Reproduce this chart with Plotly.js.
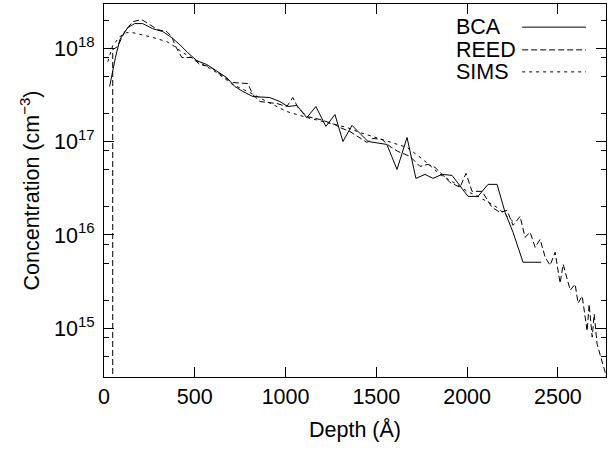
<!DOCTYPE html>
<html>
<head>
<meta charset="utf-8">
<script src="https://cdn.plot.ly/plotly-3.0.1.min.js"></script>
<style>html,body{margin:0;padding:0;background:#fff;}#chart{width:608px;height:451px;}</style>
</head>
<body>
<div id="chart"></div>
<script>
// Depth in Angstrom, concentration in cm^-3 (log10 values)
var bcaDepth = [31, 63, 87, 131, 169, 213, 268, 324, 373, 417, 461, 511, 566, 621, 676, 721, 765, 820, 913, 969, 1013, 1062, 1117, 1167, 1222, 1272, 1316, 1366, 1454, 1558, 1614, 1669, 1718, 1768, 1812, 1862, 1917, 2005, 2060, 2115, 2165, 2209, 2253, 2308, 2408];
var bcaLog = [17.592, 17.903, 18.095, 18.224, 18.267, 18.267, 18.213, 18.181, 18.117, 18.042, 17.956, 17.870, 17.828, 17.753, 17.688, 17.592, 17.539, 17.485, 17.474, 17.431, 17.378, 17.389, 17.257, 17.378, 17.164, 17.292, 17.003, 17.175, 17.003, 16.971, 16.703, 17.046, 16.607, 16.650, 16.607, 16.650, 16.639, 16.414, 16.414, 16.543, 16.543, 16.243, 16.029, 15.708, 15.708];

var reedDepth = [48, 48, 75, 114, 158, 208, 252, 296, 346, 373, 395, 429, 483, 528, 583, 627, 665, 709, 792, 820, 859, 952, 1007, 1040, 1068, 1117, 1189, 1272, 1299, 1354, 1398, 1448, 1481, 1531, 1575, 1619, 1685, 1740, 1784, 1823, 1862, 1906, 1961, 1994, 2027, 2082, 2137, 2181, 2220, 2253, 2292, 2319, 2347, 2375, 2402, 2430, 2457, 2485, 2512, 2529, 2568, 2595, 2611, 2634, 2661, 2672, 2689, 2700, 2716, 2749, 2771];
var reedLog = [12.0, 17.988, 18.020, 18.181, 18.288, 18.309, 18.256, 18.202, 18.181, 18.127, 18.020, 17.903, 17.903, 17.828, 17.806, 17.742, 17.688, 17.635, 17.624, 17.506, 17.431, 17.410, 17.378, 17.474, 17.367, 17.271, 17.239, 17.185, 17.153, 17.110, 17.057, 16.993, 17.035, 17.025, 16.950, 16.896, 16.843, 16.736, 16.757, 16.725, 16.650, 16.564, 16.511, 16.661, 16.468, 16.468, 16.297, 16.243, 16.264, 16.104, 16.200, 15.975, 16.029, 15.868, 15.954, 15.761, 15.675, 15.815, 15.483, 15.686, 15.408, 15.472, 15.269, 15.344, 14.969, 15.258, 14.905, 15.151, 14.830, 14.616, 14.455];

var simsDepth = [21, 48, 87, 125, 158, 252, 346, 390, 434, 528, 621, 709, 803, 897, 1007, 1117, 1227, 1338, 1409, 1481, 1575, 1669, 1757, 1851, 1944, 2000, 2060, 2110, 2165, 2209, 2264];
var simsLog = [17.859, 18.031, 18.127, 18.170, 18.170, 18.127, 18.074, 18.020, 17.956, 17.849, 17.742, 17.613, 17.528, 17.431, 17.324, 17.260, 17.207, 17.153, 17.100, 17.057, 17.003, 16.939, 16.810, 16.650, 16.543, 16.468, 16.414, 16.360, 16.296, 16.221, 16.125];

var xTickVals = [0, 500, 1000, 1500, 2000, 2500];
var yTickVals = [1e15, 1e16, 1e17, 1e18];
var yTickText = ['10<sup>15</sup>', '10<sup>16</sup>', '10<sup>17</sup>', '10<sup>18</sup>'];
var seriesNames = ['BCA', 'REED', 'SIMS'];

function pow10(a) { return a.map(function (v) { return Math.pow(10, v); }); }

var yMinor = [];
[14, 15, 16, 17, 18].forEach(function (e) {
  [2, 5, 8].forEach(function (m) { yMinor.push(m * Math.pow(10, e)); });
});

var FONT = 'Liberation Sans';
var FS = 21.5;
var dashes = ['solid', '6px,3px', '3px,4px'];

var traces = [
  {x: bcaDepth, y: pow10(bcaLog), name: seriesNames[0], type: 'scatter', mode: 'lines', line: {color: '#000', width: 1, dash: dashes[0]}},
  {x: reedDepth, y: pow10(reedLog), name: seriesNames[1], type: 'scatter', mode: 'lines', line: {color: '#000', width: 1, dash: dashes[1]}},
  {x: simsDepth, y: pow10(simsLog), name: seriesNames[2], type: 'scatter', mode: 'lines', line: {color: '#000', width: 1, dash: dashes[2]}}
];

var legY = [0.938, 0.877, 0.818];
var annotations = [];
var shapes = [];
seriesNames.forEach(function (n, i) {
  annotations.push({text: n, xref: 'paper', yref: 'paper', x: 0.697, y: legY[i], xanchor: 'left', yanchor: 'middle', showarrow: false, font: {family: FONT, size: FS, color: '#000'}});
  shapes.push({type: 'line', xref: 'paper', yref: 'paper', x0: 0.833, x1: 0.96, y0: legY[i], y1: legY[i], line: {color: '#000', width: 1, dash: dashes[i]}});
});

var layout = {
  width: 608, height: 451,
  margin: {l: 104, r: 2, t: 4, b: 74},
  paper_bgcolor: '#fff', plot_bgcolor: '#fff',
  showlegend: false,
  font: {family: FONT, size: FS, color: '#000'},
  xaxis: {
    range: [0, 2765], tickmode: 'array', tickvals: xTickVals,
    ticks: 'inside', ticklen: 10, tickcolor: '#000', tickwidth: 1,
    showline: true, linecolor: '#000', linewidth: 1, mirror: 'ticks',
    showgrid: false, zeroline: false,
    tickfont: {family: FONT, size: FS, color: '#000'},
    title: {text: 'Depth (Å)', font: {family: FONT, size: FS, color: '#000'}, standoff: 14}
  },
  yaxis: {
    type: 'log', range: [Math.log10(3e14), Math.log10(3e18)],
    tickmode: 'array', tickvals: yTickVals, ticktext: yTickText,
    ticks: 'inside', ticklen: 10, tickcolor: '#000', tickwidth: 1,
    minor: {tickmode: 'array', tickvals: yMinor, ticks: 'inside', ticklen: 5, tickcolor: '#000', showgrid: false},
    showline: true, linecolor: '#000', linewidth: 1, mirror: 'ticks',
    showgrid: false, zeroline: false,
    tickfont: {family: FONT, size: FS, color: '#000'},
    ticklabelstandoff: 4,
    title: {text: 'Concentration (cm<sup>−3</sup>)', font: {family: FONT, size: FS, color: '#000'}, standoff: 8}
  },
  annotations: annotations,
  shapes: shapes
};

Plotly.newPlot('chart', traces, layout, {staticPlot: true, displayModeBar: false});
</script>
</body>
</html>
